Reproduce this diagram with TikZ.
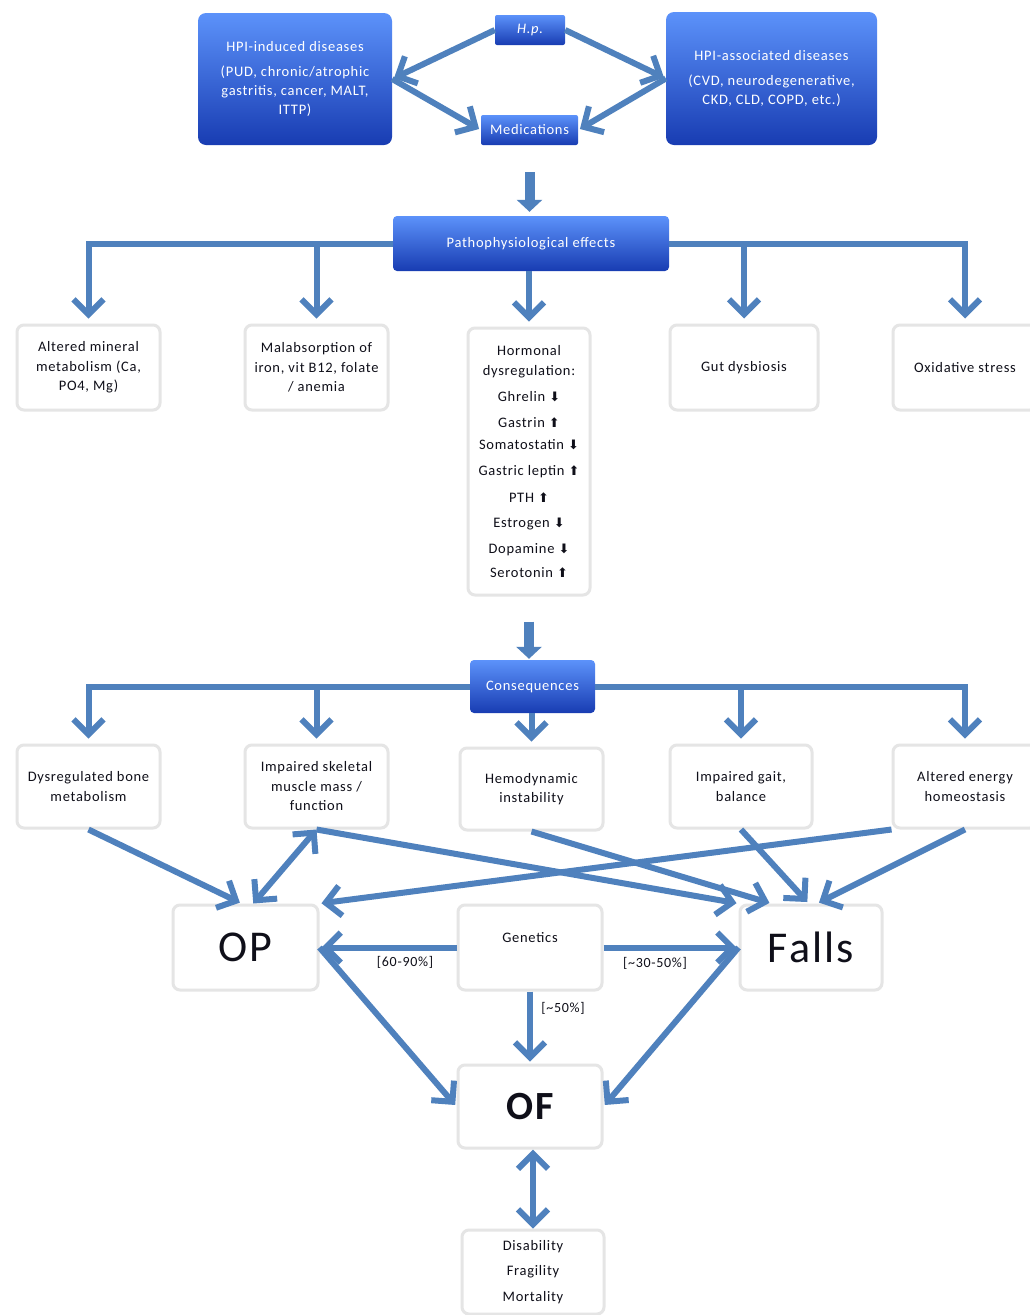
\documentclass[tikz,border=0pt]{standalone}
\usepackage{fontspec}
\setmainfont{Carlito}[LetterSpace=5]
\newfontfamily\symf{DejaVu Sans}
\usetikzlibrary{arrows.meta}
\definecolor{ablue}{RGB}{79,129,189}
\definecolor{btop}{RGB}{92,146,250}
\definecolor{bbot}{RGB}{24,60,178}
\definecolor{txt}{RGB}{15,15,25}
\newcommand\arrdn{{\symf\fontsize{13}{13}\selectfont ⬇}}
\newcommand\arrup{{\symf\fontsize{13}{13}\selectfont ⬆}}
\tikzset{
 bluebox/.style={rounded corners=6pt, top color=btop, bottom color=bbot, text=white, align=center, inner sep=2pt, font=\fontsize{14.5}{19}\selectfont},
 whitebox/.style={rounded corners=7pt, draw=black!10, line width=3pt, fill=white, text=txt, align=center, inner sep=2pt, font=\fontsize{14.5}{19.5}\selectfont},
 conn/.style={draw=ablue, line width=6pt, -{Straight Barb[length=15pt,width=30pt]}, shorten >=2pt},
 dconn/.style={draw=ablue, line width=6pt, {Straight Barb[length=15pt,width=30pt]}-{Straight Barb[length=15pt,width=30pt]}},
 blockarrow/.style={draw=ablue, line width=10pt, -{Triangle[length=12pt,width=25pt]}},
 lbl/.style={text=txt, font=\fontsize{14}{16}\selectfont, inner sep=1pt},
}
\begin{document}
\begin{tikzpicture}[x=1pt,y=-1pt]
\useasboundingbox (0,0) rectangle (1030,1315);
\fill[white] (0,0) rectangle (1030,1315);

% top row
\node[bluebox, rounded corners=8pt, minimum width=194pt, minimum height=132pt] (hpi) at (295,79)
  {HPI-induced diseases\\[6pt](PUD, chronic/atrophic\\gastritis, cancer, MALT,\\ITTP)};
\node[bluebox, rounded corners=2pt, minimum width=70pt, minimum height=30pt] (hp) at (530,30) {\itshape H.p.};
\node[bluebox, rounded corners=2pt, minimum width=97pt, minimum height=30pt] (med) at (529.5,130) {Medications};
\node[bluebox, rounded corners=8pt, minimum width=211pt, minimum height=133pt] (hpa) at (771.5,78.5)
  {HPI-associated diseases\\[6pt](CVD, neurodegenerative,\\CKD, CLD, COPD, etc.)};

\node[bluebox, rounded corners=4pt, minimum width=276pt, minimum height=55pt] (path) at (531,243.5) {Pathophysiological effects};

\node[whitebox, minimum width=143pt, minimum height=85pt] (alt) at (88.5,367.5) {Altered mineral\\metabolism (Ca,\\PO4, Mg)};
\node[whitebox, minimum width=143pt, minimum height=85pt] (mal) at (316.5,367.5) {Malabsorption of\\iron, vit B12, folate\\/ anemia};
\node[whitebox, minimum width=122pt, minimum height=267pt] (hor) at (529,461.5)
  {Hormonal\\dysregulation:\\[6.5pt]Ghrelin \arrdn\\[6.5pt]Gastrin \arrup\\[2.5pt]Somatostatin \arrdn\\[6.5pt]Gastric leptin \arrup\\[7.5pt]PTH \arrup\\[5.5pt]Estrogen \arrdn\\[6.5pt]Dopamine \arrdn\\[4.5pt]Serotonin \arrup};
\node[whitebox, minimum width=148pt, minimum height=85pt] (gut) at (744,367.5) {Gut dysbiosis};
\node[whitebox, minimum width=144pt, minimum height=85pt] (oxi) at (965,367.5) {Oxidative stress};

\node[bluebox, rounded corners=4pt, minimum width=125pt, minimum height=53pt] (cons) at (532.5,686.5) {Consequences};

\node[whitebox, minimum width=143pt, minimum height=83pt] (dys) at (88.5,786.5) {Dysregulated bone\\metabolism};
\node[whitebox, minimum width=143pt, minimum height=83pt] (imp) at (316.5,786.5) {Impaired skeletal\\muscle mass /\\function};
\node[whitebox, minimum width=143pt, minimum height=82pt] (hem) at (531.5,789) {Hemodynamic\\instability};
\node[whitebox, minimum width=142pt, minimum height=83pt] (gait) at (741,786.5) {Impaired gait,\\balance};
\node[whitebox, minimum width=144pt, minimum height=83pt] (ene) at (965,786.5) {Altered energy\\homeostasis};

\node[whitebox, minimum width=145pt, minimum height=85pt, font=\fontsize{44}{44}\selectfont] (op) at (245.5,947.5) {OP};
\node[whitebox, minimum width=144pt, minimum height=85pt, text depth=20pt] (gen) at (530,947.5) {Genetics};
\node[whitebox, minimum width=142pt, minimum height=85pt, font=\fontsize{44}{44}\selectfont] (fal) at (811,947.5) {Falls};
\node[whitebox, minimum width=144pt, minimum height=83pt, font=\fontsize{40}{40}\selectfont\bfseries] (of) at (530,1106.5) {OF};
\node[whitebox, minimum width=142pt, minimum height=84pt] (dis) at (533,1272) {Disability\\[6pt]Fragility\\[6pt]Mortality};

% top connectors
\draw[conn] (hp.west) -- (hpi.east);
\draw[conn] (hpi.east) -- (med.west);
\draw[conn] (hp.east) -- (hpa.west);
\draw[conn] (hpa.west) -- (med.east);
\draw[blockarrow, shorten <=27pt, shorten >=4pt] (med.south) -- (med.south |- path.north);

% fan out 1
\draw[conn, shorten >=5pt] (path.west) -| (alt.north);
\draw[conn, shorten >=5pt] (path.west -| mal.north) -- (mal.north);
\draw[conn, shorten >=5pt] (hor.north |- path.south) -- (hor.north);
\draw[conn, shorten >=5pt] (path.east -| gut.north) -- (gut.north);
\draw[conn, shorten >=5pt] (path.east) -| (oxi.north);
\draw[blockarrow, shorten <=25pt, shorten >=1pt] (hor.south) -- (hor.south |- cons.north);

% fan out 2
\draw[conn, shorten >=5pt] (cons.west) -| (dys.north);
\draw[conn, shorten >=5pt] (cons.west -| imp.north) -- (imp.north);
\draw[conn, shorten >=5pt] (hem.north |- cons.south) -- (hem.north);
\draw[conn, shorten >=5pt] (cons.east -| gait.north) -- (gait.north);
\draw[conn, shorten >=5pt] (cons.east) -| (ene.north);

% to OP / Falls
\draw[conn] (dys.south) -- (op.95);
\draw[dconn] (op.80) -- (imp.south);
\draw[conn] (imp.south) -- (fal.north west);
\draw[conn] (hem.south) -- (fal.132);
\draw[conn] (gait.south) -- (fal.93);
\draw[conn] (ene.south) -- (fal.82);
\draw[conn] (ene.south west) -- (op.north east);

% genetics
\draw[conn] (gen.west) -- (op.east);
\draw[conn] (gen.east) -- (fal.west);
\draw[conn] (gen.south) -- (of.north);
\node[lbl] (l1) at (405,962) {[60-90\%]};
\node[lbl] (l2) at (655,963) {[\textasciitilde30-50\%]};
\node[lbl] (l3) at (563,1008) {[\textasciitilde50\%]};

% to OF
\draw[conn] (op.east) -- (of.west);
\draw[conn] (fal.west) -- (of.east);
\draw[dconn] (dis.north |- of.south) -- (dis.north);
\end{tikzpicture}
\end{document}
